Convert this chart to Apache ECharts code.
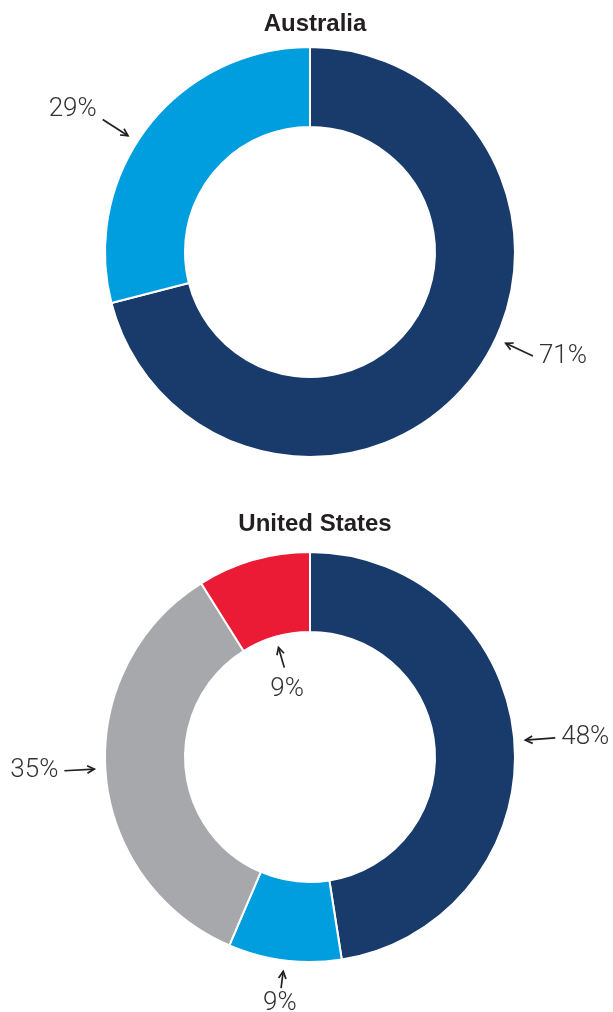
<!DOCTYPE html>
<html>
<head>
<meta charset="utf-8">
<script src="https://cdn.jsdelivr.net/npm/echarts@6/dist/echarts.min.js"></script>
<style>
  html, body { margin: 0; padding: 0; background: #fff; }
  #chart { width: 613px; height: 1012px; }
</style>
</head>
<body>
<div id="chart"></div>
<script>
// Chart titles
const titles = ['Australia', 'United States'];

// Share of each segment (%), clockwise from 12 o'clock
const australiaValues = [71, 29];
const unitedStatesValues = [48, 9, 35, 9];

// Segment colours
const australiaColors = ['#183b6c', '#009ede'];
const unitedStatesColors = ['#183b6c', '#009ede', '#a7a8ab', '#ec1b35'];

// Callout placement: fraction of the slice's sweep the arrow points at,
// ring side, arrow length and a small nudge for the text
const australiaCallouts = [
  { at: 0.45, side: 'out', len: 30, nudge: 0 },
  { at: 0.45, side: 'out', len: 30, nudge: -10 }
];
const unitedStatesCallouts = [
  { at: 0.5, side: 'out', len: 30, nudge: 0 },
  { at: 0.5, side: 'out', len: 17, nudge: -4 },
  { at: 0.51, side: 'out', len: 30, nudge: 0 },
  { at: 0.5, side: 'in', len: 21, nudge: 3 }
];

const CX = 310;
const rings = [
  { cy: 252, titleTop: 7, values: australiaValues, colors: australiaColors, callouts: australiaCallouts },
  { cy: 757, titleTop: 507, values: unitedStatesValues, colors: unitedStatesColors, callouts: unitedStatesCallouts }
];
const R_IN = 125, R_OUT = 205;
const LABEL_FONT = '300 26px Roboto, "Liberation Sans", sans-serif';
const INK = '#231f20';

const chart = echarts.init(document.getElementById('chart'), null, { renderer: 'canvas' });

chart.setOption({
  animation: false,
  backgroundColor: '#ffffff',
  title: rings.map((ring, i) => ({
    text: titles[i],
    left: CX,
    textAlign: 'center',
    top: ring.titleTop,
    textStyle: { fontFamily: '"Liberation Sans", Arial, sans-serif', fontWeight: 'bold', fontSize: 24, color: INK }
  })),
  series: rings.map(ring => ({
    type: 'pie',
    center: [CX, ring.cy],
    radius: [R_IN, R_OUT],
    startAngle: 90,
    clockwise: true,
    silent: true,
    label: { show: false },
    labelLine: { show: false },
    itemStyle: { borderColor: '#ffffff', borderWidth: 2 },
    data: ring.values.map((v, j) => ({ value: v, itemStyle: { color: ring.colors[j] } }))
  }))
});

// Callout arrows and percentage labels, placed from each slice's computed layout
function sliceAngles(values) {
  const total = values.reduce((a, b) => a + b, 0);
  let a = -Math.PI / 2;
  return values.map(v => {
    const s = a;
    a += (v / total) * Math.PI * 2;
    return { startAngle: s, endAngle: a };
  });
}

const graphics = [];
rings.forEach((ring, si) => {
  let layouts = null;
  try {
    const data = chart.getModel().getSeriesByIndex(si).getData();
    layouts = ring.values.map((_, j) => data.getItemLayout(j));
    if (!layouts[0] || layouts[0].startAngle == null) layouts = null;
  } catch (e) { layouts = null; }
  if (!layouts) layouts = sliceAngles(ring.values).map(l => Object.assign({ cx: CX, cy: ring.cy, r: R_OUT, r0: R_IN }, l));

  ring.values.forEach((v, j) => {
    const L = layouts[j];
    const cx = L.cx, cy = L.cy;
    const c = ring.callouts[j];
    const ang = L.startAngle + (L.endAngle - L.startAngle) * c.at;
    const ux = Math.cos(ang), uy = Math.sin(ang);
    let tipR, tailR, dx, dy;
    if (c.side === 'out') {
      tipR = L.r + 11; tailR = tipR + c.len; dx = ux; dy = uy;
    } else {
      tipR = L.r0 - 11; tailR = tipR - c.len; dx = -ux; dy = -uy;
    }
    const tip = [cx + ux * tipR, cy + uy * tipR];
    const tail = [cx + ux * tailR, cy + uy * tailR];
    // arrow shaft
    graphics.push({
      type: 'line', silent: true,
      shape: { x1: tail[0], y1: tail[1], x2: tip[0], y2: tip[1] },
      style: { stroke: INK, lineWidth: 1.7 }
    });
    // open arrowhead at the tip
    const back = 8, spread = 0.48;
    const rot = (s) => [
      tip[0] + back * (dx * Math.cos(s) - dy * Math.sin(s)),
      tip[1] + back * (dx * Math.sin(s) + dy * Math.cos(s))
    ];
    graphics.push({
      type: 'polyline', silent: true,
      shape: { points: [rot(spread), tip, rot(-spread)] },
      style: { stroke: INK, lineWidth: 1.7, fill: null }
    });
    // percentage label beyond the tail
    const gap = 6;
    let tx, ty, align, valign;
    if (Math.abs(dx) >= Math.abs(dy)) {
      tx = tail[0] + (dx > 0 ? gap : -gap);
      ty = tail[1] + c.nudge;
      align = dx > 0 ? 'left' : 'right';
      valign = 'middle';
    } else {
      tx = tail[0] + dx * 10;
      ty = tail[1] + (dy > 0 ? 6 : -6) + c.nudge;
      align = 'center';
      valign = dy > 0 ? 'top' : 'bottom';
    }
    graphics.push({
      type: 'text', silent: true,
      x: tx, y: ty,
      style: { text: v + '%', font: LABEL_FONT, fill: '#333333', align: align, verticalAlign: valign }
    });
  });
});

chart.setOption({ graphic: graphics });
</script>
</body>
</html>
